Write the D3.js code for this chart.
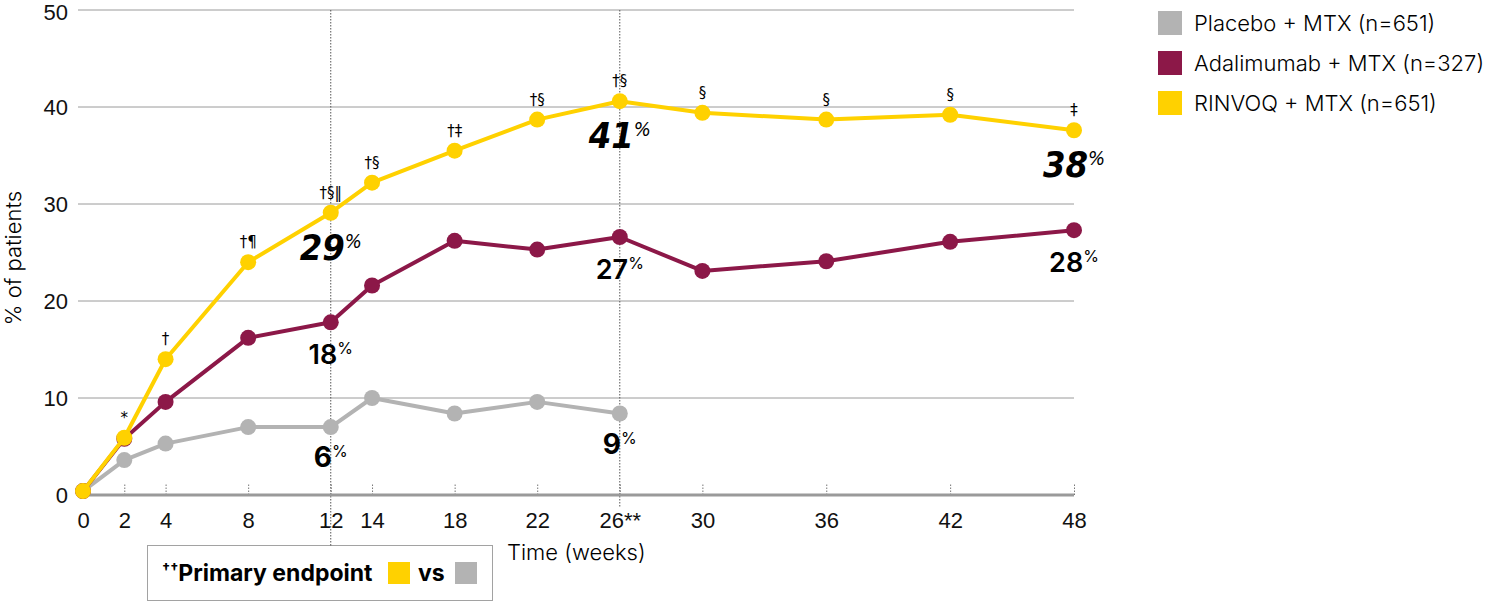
<!DOCTYPE html>
<html>
<head>
<meta charset="utf-8">
<script src="https://cdn.jsdelivr.net/npm/d3@7"></script>
<style>
  body { margin: 0; background: #fff; }
  svg { display: block; font-family: Inter, "Open Sans", sans-serif; }
  .tick text { font-size: 22px; font-weight: 300; fill: #111; }
  .hand { font-family: "DejaVu Sans Condensed", "DejaVu Sans", sans-serif; font-stretch: condensed; font-style: italic; font-weight: 700; }
</style>
</head>
<body>
<div id="chart"></div>
<script>
var weeks = [0, 2, 4, 8, 12, 14, 18, 22, 26, 30, 36, 42, 48];
var weekLabels = ["0", "2", "4", "8", "12", "14", "18", "22", "26**", "30", "36", "42", "48"];
var yTicks = [0, 10, 20, 30, 40, 50];

var placeboWeeks = [0, 2, 4, 8, 12, 14, 18, 22, 26];
var placebo = [0.4, 3.6, 5.3, 7.0, 7.0, 10.0, 8.4, 9.6, 8.4];
var adalimumab = [0.4, 5.8, 9.6, 16.2, 17.8, 21.6, 26.2, 25.3, 26.6, 23.1, 24.1, 26.1, 27.3];
var rinvoq = [0.4, 5.9, 14.0, 24.0, 29.1, 32.2, 35.5, 38.7, 40.6, 39.4, 38.7, 39.2, 37.6];
var rinvoqMarks = ["", "*", "†", "†¶", "†§‖", "†§", "†‡", "†§", "†§", "§", "§", "§", "‡"];

var seriesNames = ["Placebo + MTX (n=651)", "Adalimumab + MTX (n=327)", "RINVOQ + MTX (n=651)"];
var colors = ["#b3b3b3", "#8c1848", "#ffd100"];

// highlighted values: series index, week, label
var callouts = [
    [2, 12, "29", "hand"], [2, 26, "41", "hand"], [2, 48, "38", "hand"],
    [1, 12, "18", "mid"], [1, 26, "27", "mid"], [1, 48, "28", "mid"],
    [0, 12, "6", "bold"], [0, 26, "9", "bold"]
];
var refWeeks = [12, 26];

var width = 1489, height = 601;

var x = d3.scaleLinear().domain([0, 48]).range([83, 1074]);
var y = d3.scaleLinear().domain([0, 50]).range([495, 10]);

var svg = d3.select("#chart").append("svg")
    .attr("width", width)
    .attr("height", height);

// grid lines
svg.append("g").selectAll("line")
    .data(yTicks.filter(function (d) { return d > 0; }))
    .enter().append("line")
    .attr("x1", 78).attr("x2", x(48))
    .attr("y1", function (d) { return y(d); })
    .attr("y2", function (d) { return y(d); })
    .attr("stroke", "#9a9a9a")
    .attr("stroke-width", 1);

// reference dotted lines
svg.append("g").selectAll("line")
    .data(refWeeks)
    .enter().append("line")
    .attr("x1", function (d) { return x(d); })
    .attr("x2", function (d) { return x(d); })
    .attr("y1", y(50))
    .attr("y2", function (d) { return d == 12 ? 546 : 508; })
    .attr("stroke", "#555")
    .attr("stroke-width", 1)
    .attr("stroke-dasharray", "1.5,1.5");

// y axis labels
var yAxis = d3.axisLeft(y).tickValues(yTicks).tickSize(0).tickPadding(10);
var gy = svg.append("g")
    .attr("transform", "translate(78,0)")
    .call(yAxis)
    .call(function (g) { g.select(".domain").remove(); });
gy.selectAll(".tick text").attr("dy", function (d) { return d == 50 ? "0.45em" : "0.36em"; });

// x axis
var xAxis = d3.axisBottom(x)
    .tickValues(weeks)
    .tickSize(-12)
    .tickPadding(17)
    .tickFormat(function (d, i) { return weekLabels[i]; });
var gx = svg.append("g")
    .attr("transform", "translate(0," + y(0) + ")")
    .call(xAxis);
gx.select(".domain").remove();
gx.selectAll(".tick line")
    .attr("stroke", "#777")
    .attr("stroke-dasharray", "1.5,1.5");
gx.selectAll(".tick text").attr("dy", "0.71em");

svg.append("line")
    .attr("x1", 78).attr("x2", x(48))
    .attr("y1", y(0)).attr("y2", y(0))
    .attr("stroke", "#9a9a9a")
    .attr("stroke-width", 3);

// axis titles
svg.append("text")
    .attr("transform", "translate(21,258) rotate(-90)")
    .attr("text-anchor", "middle")
    .style("font-size", "22px")
    .style("font-weight", 300)
    .text("% of patients");

svg.append("text")
    .attr("x", 507).attr("y", 560)
    .style("font-size", "22px")
    .style("font-weight", 300)
    .text("Time (weeks)");

// series
var series = [
    { w: placeboWeeks, v: placebo },
    { w: weeks, v: adalimumab },
    { w: weeks, v: rinvoq }
];

var line = d3.line()
    .x(function (d) { return x(d[0]); })
    .y(function (d) { return y(d[1]); });

series.forEach(function (s, k) {
    var pts = s.w.map(function (w, i) { return [w, s.v[i]]; });
    var g = svg.append("g");
    g.append("path")
        .datum(pts)
        .attr("fill", "none")
        .attr("stroke", colors[k])
        .attr("stroke-width", 4)
        .attr("stroke-linejoin", "round")
        .attr("d", line);
    g.selectAll("circle")
        .data(pts)
        .enter().append("circle")
        .attr("cx", function (d) { return x(d[0]); })
        .attr("cy", function (d) { return y(d[1]); })
        .attr("r", 8)
        .attr("fill", colors[k]);
});

// significance marks above RINVOQ points
svg.append("g").selectAll("text")
    .data(weeks)
    .enter().append("text")
    .attr("x", function (d) { return x(d); })
    .attr("y", function (d, i) { return y(rinvoq[i]) - 15; })
    .attr("text-anchor", "middle")
    .style("font-size", "15px")
    .style("font-family", "'DejaVu Sans', sans-serif")
    .text(function (d, i) { return rinvoqMarks[i]; });

// callout labels
callouts.forEach(function (c) {
    var s = series[c[0]];
    var i = s.w.indexOf(c[1]);
    var t = svg.append("text")
        .attr("x", x(c[1]))
        .attr("text-anchor", "middle");
    if (c[3] == "hand") {
        t.attr("class", "hand")
            .attr("y", y(s.v[i]) + 47)
            .style("font-size", "36px");
        t.append("tspan").text(c[2]);
        t.append("tspan").attr("dy", "-12").style("font-size", "20px").style("font-weight", 400).text("%");
    } else {
        t.attr("y", y(s.v[i]) + (c[0] == 0 ? 40 : 42))
            .style("font-size", c[3] == "bold" ? "28px" : "27px")
            .style("font-weight", c[3] == "bold" ? 700 : 600);
        t.append("tspan").text(c[2]);
        t.append("tspan").attr("dy", "-10").style("font-size", "16px").style("font-weight", 400).text("%");
    }
});

// legend
var legend = svg.append("g").selectAll("g")
    .data(seriesNames)
    .enter().append("g")
    .attr("transform", function (d, i) { return "translate(1158," + (11 + i * 40) + ")"; });
legend.append("rect")
    .attr("width", 24).attr("height", 24)
    .attr("fill", function (d, i) { return colors[i]; });
legend.append("text")
    .attr("x", 36).attr("y", 20)
    .style("font-size", "22px")
    .style("font-weight", 300)
    .text(function (d) { return d; });

// primary endpoint box
var box = svg.append("g");
box.append("rect")
    .attr("x", 147.5).attr("y", 545.5)
    .attr("width", 345).attr("height", 55)
    .attr("fill", "none")
    .attr("stroke", "#444")
    .attr("stroke-dasharray", "1,1");
var bt = box.append("text")
    .attr("x", 162).attr("y", 581)
    .style("font-size", "23px")
    .style("font-weight", 700);
bt.append("tspan").attr("dy", "-7").style("font-size", "14px").text("††");
bt.append("tspan").attr("dy", "7").text("Primary endpoint");
box.append("rect")
    .attr("x", 388).attr("y", 562).attr("width", 22).attr("height", 22)
    .attr("fill", colors[2]);
box.append("text")
    .attr("x", 418).attr("y", 581)
    .style("font-size", "23px")
    .style("font-weight", 700)
    .text("vs");
box.append("rect")
    .attr("x", 455).attr("y", 562).attr("width", 22).attr("height", 22)
    .attr("fill", colors[0]);
</script>
</body>
</html>
